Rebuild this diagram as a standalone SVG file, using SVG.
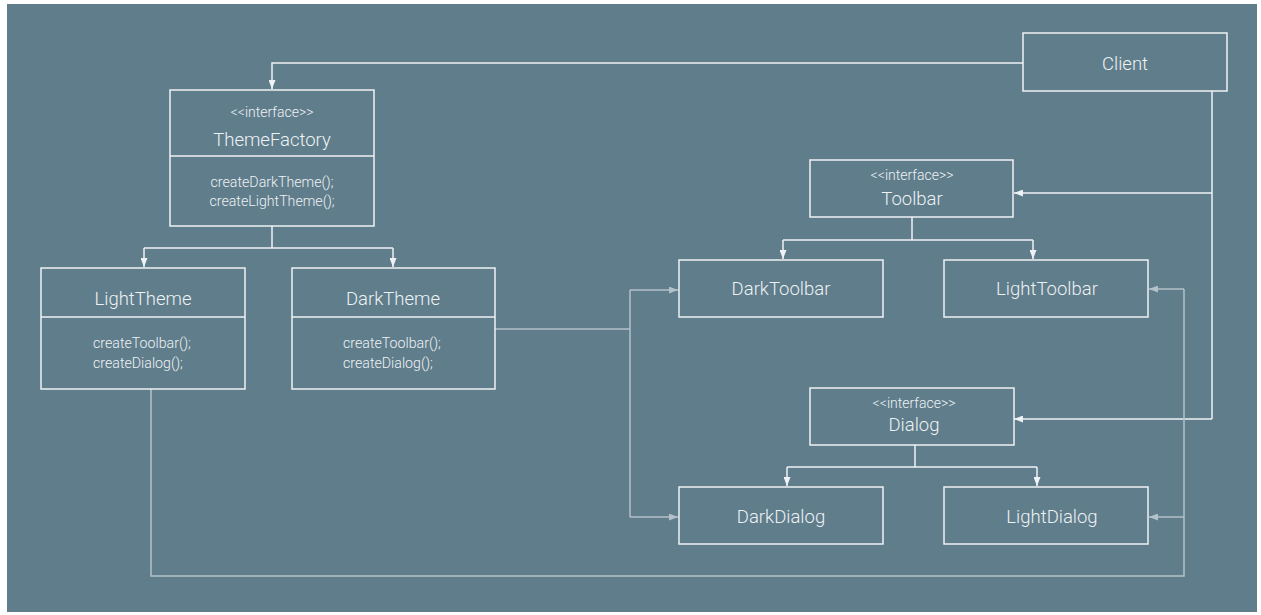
<svg xmlns="http://www.w3.org/2000/svg" width="1261" height="615" viewBox="0 0 1261 615">
<defs>
<style>
.box{fill:none;stroke:#eef2f4;stroke-width:1.5}
.w{fill:none;stroke:#eef2f4;stroke-width:1.5}
.g{fill:none;stroke:#b3c1c8;stroke-width:1.5}
text{font-family:Roboto,"Liberation Sans",sans-serif;font-weight:300;fill:#eef2f4}
.t{font-size:18.5px;text-anchor:middle}
.s{font-size:14px;text-anchor:middle}
.m{font-size:14.2px}
.mc{font-size:14.2px;text-anchor:middle}
</style>
<marker id="aw" markerWidth="9" markerHeight="7" refX="9" refY="3.5" orient="auto" markerUnits="userSpaceOnUse"><path d="M0,0 L9,3.5 L0,7 z" fill="#eef2f4"/></marker>
<marker id="ag" markerWidth="9" markerHeight="7" refX="9" refY="3.5" orient="auto" markerUnits="userSpaceOnUse"><path d="M0,0 L9,3.5 L0,7 z" fill="#b3c1c8"/></marker>
</defs>
<rect x="7" y="4" width="1250" height="608" fill="#607d8b"/>
<g id="connectors">
<path class="w" d="M1023,63 H272 V89" marker-end="url(#aw)"/>
<path class="w" d="M272,226 V248"/>
<path class="w" d="M144,248 H393"/>
<path class="w" d="M144,248 V267" marker-end="url(#aw)"/>
<path class="w" d="M393,248 V267" marker-end="url(#aw)"/>
<path class="w" d="M1212,91 V419"/>
<path class="w" d="M1212,193 H1014" marker-end="url(#aw)"/>
<path class="w" d="M1212,419 H1014" marker-end="url(#aw)"/>
<path class="w" d="M912,217 V240"/>
<path class="w" d="M783,240 H1033"/>
<path class="w" d="M783,240 V259" marker-end="url(#aw)"/>
<path class="w" d="M1033,240 V259" marker-end="url(#aw)"/>
<path class="w" d="M915,445 V467"/>
<path class="w" d="M787,467 H1037"/>
<path class="w" d="M787,467 V486" marker-end="url(#aw)"/>
<path class="w" d="M1037,467 V486" marker-end="url(#aw)"/>
<path class="g" d="M495,329 H630"/>
<path class="g" d="M630,290 V517"/>
<path class="g" d="M630,290 H678" marker-end="url(#ag)"/>
<path class="g" d="M630,517 H678" marker-end="url(#ag)"/>
<path class="g" d="M151,389 V576 H1184 V289"/>
<path class="g" d="M1184,289 H1149" marker-end="url(#ag)"/>
<path class="g" d="M1184,517 H1149" marker-end="url(#ag)"/>
</g>
<g id="client">
<rect class="box" x="1023" y="33" width="204" height="58"/>
<text class="t" x="1125" y="70">Client</text>
</g>
<g id="themefactory">
<rect class="box" x="170" y="90" width="204" height="136"/>
<line class="w" x1="170" y1="156" x2="374" y2="156"/>
<text class="s" x="272" y="117">&lt;&lt;interface&gt;&gt;</text>
<text class="t" x="272" y="146">ThemeFactory</text>
<text class="mc" x="272" y="187">createDarkTheme();</text>
<text class="mc" x="272" y="206">createLightTheme();</text>
</g>
<g id="lighttheme">
<rect class="box" x="41" y="268" width="204" height="121"/>
<line class="w" x1="41" y1="317" x2="245" y2="317"/>
<text class="t" x="143" y="305">LightTheme</text>
<text class="m" x="93" y="348">createToolbar();</text>
<text class="m" x="93" y="368">createDialog();</text>
</g>
<g id="darktheme">
<rect class="box" x="292" y="268" width="203" height="121"/>
<line class="w" x1="292" y1="317" x2="495" y2="317"/>
<text class="t" x="393" y="305">DarkTheme</text>
<text class="m" x="343" y="348">createToolbar();</text>
<text class="m" x="343" y="368">createDialog();</text>
</g>
<g id="toolbar">
<rect class="box" x="810" y="160" width="203" height="57"/>
<text class="s" x="912" y="180">&lt;&lt;interface&gt;&gt;</text>
<text class="t" x="912" y="205">Toolbar</text>
</g>
<g id="darktoolbar">
<rect class="box" x="679" y="260" width="204" height="57"/>
<text class="t" x="781" y="295">DarkToolbar</text>
</g>
<g id="lighttoolbar">
<rect class="box" x="944" y="260" width="204" height="57"/>
<text class="t" x="1047" y="295">LightToolbar</text>
</g>
<g id="dialog">
<rect class="box" x="810" y="388" width="204" height="57"/>
<text class="s" x="914" y="408">&lt;&lt;interface&gt;&gt;</text>
<text class="t" x="914" y="431">Dialog</text>
</g>
<g id="darkdialog">
<rect class="box" x="679" y="487" width="204" height="57"/>
<text class="t" x="781" y="523">DarkDialog</text>
</g>
<g id="lightdialog">
<rect class="box" x="944" y="487" width="204" height="57"/>
<text class="t" x="1052" y="523">LightDialog</text>
</g>
</svg>
